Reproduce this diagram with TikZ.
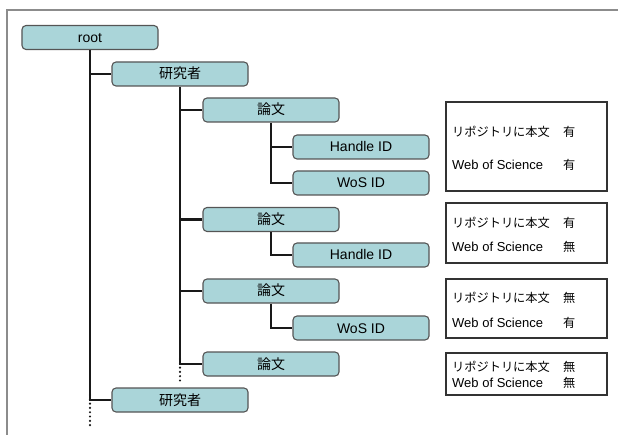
\documentclass[tikz,border=0pt]{standalone}
\usepackage{fontspec}
\setmainfont{Liberation Sans}
\newfontfamily\jp{Noto Sans CJK JP}
\definecolor{boxfill}{HTML}{AAD5D9}
\definecolor{boxline}{HTML}{555555}
\definecolor{framegray}{HTML}{8C8C8C}
\newcommand{\J}[1]{{\jp #1}}
\begin{document}
\begin{tikzpicture}[x=1bp,y=-1bp,
  tbox/.style={draw=boxline, fill=boxfill, line width=1.1bp, rounded corners=4bp,
    minimum width=136bp, minimum height=24bp, inner sep=0pt,
    text height=10bp, text depth=0bp, font=\fontsize{14bp}{16bp}\selectfont},
  infobox/.style={draw=black!80, line width=1.1bp, fill=white, inner sep=0pt},
  lbl/.style={anchor=base west, inner sep=0pt, font=\fontsize{13bp}{15bp}\selectfont},
  jlbl/.style={anchor=base west, inner sep=0pt, font=\fontsize{12.2bp}{14bp}\selectfont\jp},
  conn/.style={line width=2.8bp, draw=black!90},
  dots/.style={line width=2.4bp, line cap=round, dash pattern=on 0bp off 4.3bp, draw=black!90}
]
\useasboundingbox (0,0) rectangle (618,435);
% frame
\draw[framegray, line width=1.3bp] (7,436) -- (7,10) -- (619,10);

% connectors (drawn first, under the boxes)
\coordinate (rootb) at (90,50);
\coordinate (r1b) at (180,86);
\coordinate (p1b) at (271,122);
\coordinate (p2b) at (271,231.5);
\coordinate (p3b) at (271,303);

% tree nodes
\node[tbox] (root) at (90,37.5) {root};
\node[tbox] (r1) at (180,74) {\J{研究者}};
\node[tbox] (p1) at (271,110) {\J{論文}};
\node[tbox] (h1) at (361,147) {Handle ID};
\node[tbox] (w1) at (361,183) {WoS ID};
\node[tbox] (p2) at (271,219.5) {\J{論文}};
\node[tbox] (h2) at (361,255) {Handle ID};
\node[tbox] (p3) at (271,291) {\J{論文}};
\node[tbox] (w2) at (361,328) {WoS ID};
\node[tbox] (p4) at (271,364) {\J{論文}};
\node[tbox] (r2) at (180,400) {\J{研究者}};

\draw[conn] (root.south) -- (root.south |- r2.west) -- (r2.west);
\draw[conn] (root.south |- r1.west) -- (r1.west);
\draw[conn] (r1.south) -- (r1.south |- p4.west) -- (p4.west);
\draw[conn] (r1.south |- p1.west) -- (p1.west);
\draw[conn] (r1.south |- p2.west) -- (p2.west);
\draw[conn] (r1.south |- p3.west) -- (p3.west);
\draw[conn] (p1.south) -- (p1.south |- w1.west) -- (w1.west);
\draw[conn] (p1.south |- h1.west) -- (h1.west);
\draw[conn] (p2.south) |- (h2.west);
\draw[conn] (p3.south) |- (w2.west);

% continuation dots
\coordinate (rend) at (90,428);
\coordinate (pend) at (180,381);
\draw[dots] ([yshift=5bp]root.south |- r2.west) -- (rend);
\draw[dots] ([yshift=5bp]r1.south |- p4.west) -- (pend);

% info boxes
\node[infobox, minimum width=161bp, minimum height=89bp] (i1) at (526.5,146.5) {};
\node[infobox, minimum width=161bp, minimum height=60bp] (i2) at (526.5,233) {};
\node[infobox, minimum width=161bp, minimum height=59bp] (i3) at (526.5,308.5) {};
\node[infobox, minimum width=161bp, minimum height=42bp] (i4) at (526.5,374) {};

\node[jlbl] (a1) at (452,136.5) {リポジトリに本文};
\node[jlbl] (b1) at (563,136.5) {有};
\node[lbl] (c1) at (452,169.5) {Web of Science};
\node[jlbl] (d1) at (563,169.5) {有};

\node[jlbl] (a2) at (452,227.5) {リポジトリに本文};
\node[jlbl] (b2) at (563,227.5) {有};
\node[lbl] (c2) at (452,251.5) {Web of Science};
\node[jlbl] (d2) at (563,251.5) {無};

\node[jlbl] (a3) at (452,302.5) {リポジトリに本文};
\node[jlbl] (b3) at (563,302.5) {無};
\node[lbl] (c3) at (452,327.5) {Web of Science};
\node[jlbl] (d3) at (563,327.5) {有};

\node[jlbl] (a4) at (452,371.5) {リポジトリに本文};
\node[jlbl] (b4) at (563,371.5) {無};
\node[lbl] (c4) at (452,387.5) {Web of Science};
\node[jlbl] (d4) at (563,387.5) {無};
\end{tikzpicture}
\end{document}
